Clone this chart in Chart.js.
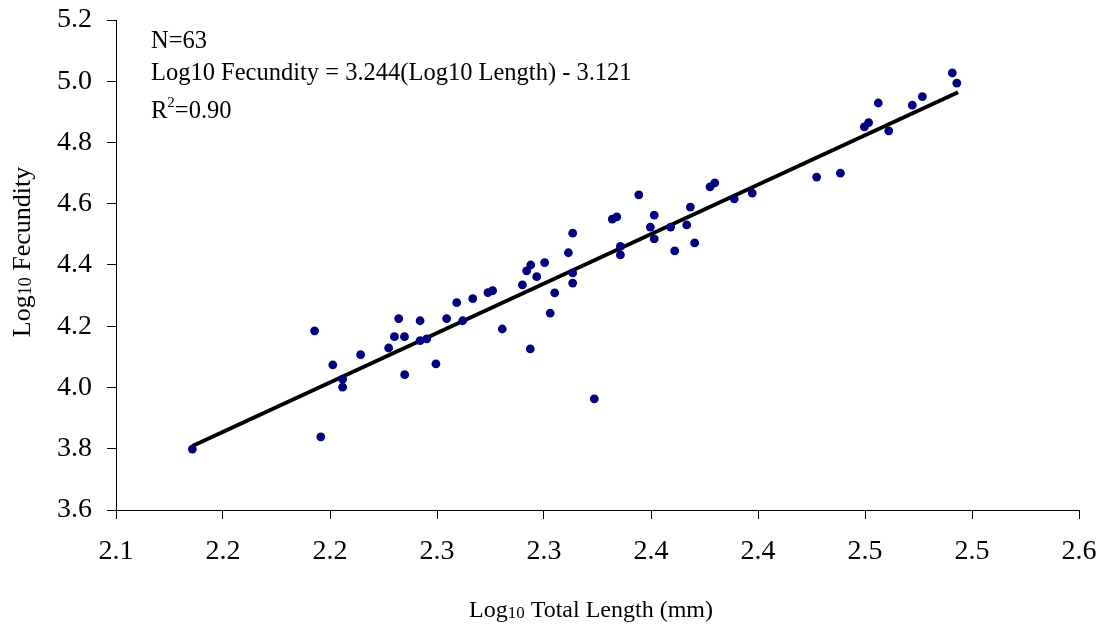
<!DOCTYPE html>
<html>
<head>
  <meta charset="utf-8">
  <script src="https://cdn.jsdelivr.net/npm/chart.js"></script>
  <style>
    body { margin: 0; background: #fff; }
  </style>
</head>
<body>
  <canvas id="fecundityChart" width="1108" height="630"></canvas>

  <script>
    // log10 total length (x) and log10 fecundity (y)
    var logLength = [
      2.1357, 2.1928, 2.1957, 2.2013, 2.2059, 2.2059, 2.2143, 2.2274, 2.2301, 2.2321,
      2.2348, 2.2349, 2.2421, 2.2421, 2.2452, 2.2495, 2.2545, 2.2592, 2.2620, 2.2667,
      2.2738, 2.2760, 2.2805, 2.2899, 2.2919, 2.2938, 2.2936, 2.2966, 2.3003, 2.3029,
      2.3050, 2.3114, 2.3134, 2.3134, 2.3134, 2.3235, 2.3319, 2.3340, 2.3357, 2.3357,
      2.3443, 2.3497, 2.3515, 2.3515, 2.3592, 2.3611, 2.3667, 2.3684, 2.3704, 2.3776,
      2.3798, 2.3889, 2.3973, 2.4274, 2.4385, 2.4497, 2.4517, 2.4562, 2.4611, 2.4721,
      2.4768, 2.4908, 2.4929
    ];
    var logFecundity = [
      3.799, 4.185, 3.839, 4.074, 4.027, 4.001, 4.107, 4.129, 4.166, 4.225,
      4.166, 4.042, 4.218, 4.153, 4.159, 4.077, 4.225, 4.277, 4.218, 4.290,
      4.310, 4.316, 4.191, 4.335, 4.381, 4.400, 4.126, 4.362, 4.408, 4.243,
      4.309, 4.440, 4.504, 4.374, 4.341, 3.963, 4.550, 4.557, 4.461, 4.433,
      4.629, 4.524, 4.563, 4.485, 4.524, 4.446, 4.531, 4.589, 4.472, 4.655,
      4.668, 4.616, 4.635, 4.687, 4.700, 4.851, 4.865, 4.929, 4.838, 4.922,
      4.950, 5.027, 4.994
    ];

    // fitted line, ends as drawn
    var fitX = [2.1357, 2.4935];
    var fitY = [3.809, 4.964];

    // axis ticks (x labels rounded to one decimal, as printed)
    var xTickValues = [2.10, 2.15, 2.20, 2.25, 2.30, 2.35, 2.40, 2.45, 2.50, 2.55];
    var xTickLabels = ['2.1', '2.2', '2.2', '2.3', '2.3', '2.4', '2.4', '2.5', '2.5', '2.6'];
    var yTickValues = [3.6, 3.8, 4.0, 4.2, 4.4, 4.6, 4.8, 5.0, 5.2];

    var SERIF = '"Liberation Serif", "Times New Roman", serif';

    // draw a row of text pieces (for sub/superscripts)
    function drawParts(c, parts, x, y, align) {
      var total = 0;
      parts.forEach(function(p) {
        c.font = p.size + 'px ' + SERIF;
        p.w = c.measureText(p.t).width;
        total += p.w;
      });
      var cx = align === 'center' ? x - total / 2 : x;
      parts.forEach(function(p) {
        c.font = p.size + 'px ' + SERIF;
        c.fillText(p.t, cx, y + (p.dy || 0));
        cx += p.w;
      });
    }

    var textPlugin = {
      id: 'chartText',
      afterDraw: function(chart) {
        var c = chart.ctx;
        c.save();
        c.fillStyle = '#000';
        c.textBaseline = 'alphabetic';

        // note in top left
        drawParts(c, [{ t: 'N=63', size: 24.5 }], 151, 48);
        drawParts(c, [{ t: 'Log10 Fecundity = 3.244(Log10 Length) - 3.121', size: 24.5 }], 151, 80);
        drawParts(c, [
          { t: 'R', size: 24.5 },
          { t: '2', size: 15, dy: -11 },
          { t: '=0.90', size: 24.5 }
        ], 151, 118);

        // x title
        drawParts(c, [
          { t: 'Log', size: 24 },
          { t: '10', size: 17, dy: 1 },
          { t: ' Total Length (mm)', size: 24 }
        ], 591, 617, 'center');

        // y title
        c.translate(30, 252);
        c.rotate(-Math.PI / 2);
        drawParts(c, [
          { t: 'Log', size: 26 },
          { t: '10', size: 18, dy: 1 },
          { t: ' Fecundity', size: 26 }
        ], 0, 0, 'center');
        c.restore();
      }
    };

    // stop label overhang from moving the plot edges
    function noOverhang(s) {
      s.paddingTop = 0;
      s.paddingBottom = 0;
      s.paddingLeft = 0;
      s.paddingRight = 0;
    }

    var points = logLength.map(function(x, i) { return { x: x, y: logFecundity[i] }; });
    var fitLine = fitX.map(function(x, i) { return { x: x, y: fitY[i] }; });

    var canvas = document.getElementById('fecundityChart');
    new Chart(canvas, {
      type: 'scatter',
      data: {
        datasets: [
          {
            label: 'Fish',
            data: points,
            backgroundColor: '#000080',
            borderColor: '#000080',
            borderWidth: 0,
            pointRadius: 4.4
          },
          {
            type: 'line',
            label: 'Fit',
            data: fitLine,
            borderColor: '#000',
            borderWidth: 4,
            pointRadius: 0,
            fill: false
          }
        ]
      },
      options: {
        responsive: false,
        animation: false,
        layout: { padding: { top: 20, right: 29, left: 0, bottom: 0 } },
        plugins: {
          legend: { display: false },
          tooltip: { enabled: false }
        },
        scales: {
          x: {
            type: 'linear',
            min: 2.1,
            max: 2.55,
            afterBuildTicks: function(s) {
              s.ticks = xTickValues.map(function(v) { return { value: v }; });
            },
            afterFit: function(s) { s.height = 120; noOverhang(s); },
            ticks: {
              autoSkip: false,
              maxRotation: 0,
              padding: 16,
              color: '#000',
              font: { family: SERIF, size: 28 },
              callback: function(v, i) { return xTickLabels[i]; }
            },
            grid: { drawOnChartArea: false, drawTicks: true, tickLength: 9, color: '#000' },
            border: { color: '#000', width: 1 }
          },
          y: {
            min: 3.6,
            max: 5.2,
            afterBuildTicks: function(s) {
              s.ticks = yTickValues.map(function(v) { return { value: v }; });
            },
            afterFit: function(s) { s.width = 116; noOverhang(s); },
            ticks: {
              autoSkip: false,
              padding: 15,
              color: '#000',
              font: { family: SERIF, size: 28 },
              callback: function(v) { return v.toFixed(1); }
            },
            grid: { drawOnChartArea: false, drawTicks: true, tickLength: 9, color: '#000' },
            border: { color: '#000', width: 1 }
          }
        }
      },
      plugins: [textPlugin]
    });
  </script>
</body>
</html>
